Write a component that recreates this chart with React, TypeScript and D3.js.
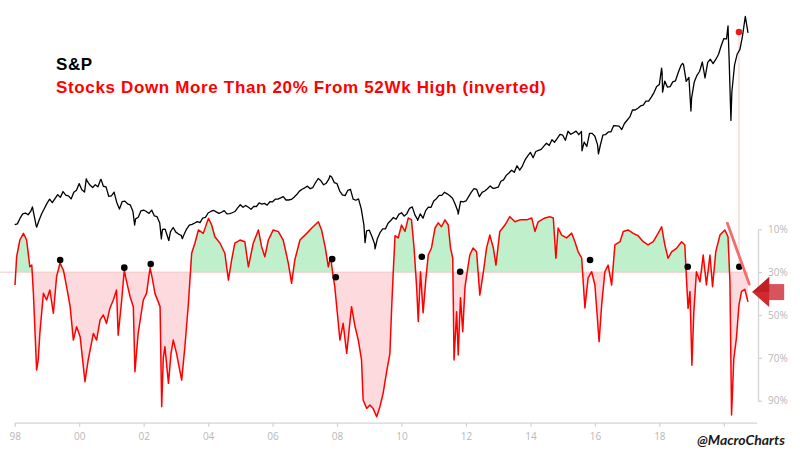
import { useEffect, useRef } from 'react'
import * as d3 from 'd3'

// S&P 500 month-end closes, starting Jan 1998
const spxFirstYear = 1998
const spxMonthly = [
  980, 1049, 1102, 1112, 1091, 1134, 1121, 957, 1017, 1099, 1164, 1229,
  1280, 1238, 1286, 1335, 1302, 1373, 1329, 1320, 1283, 1363, 1389, 1469,
  1394, 1366, 1499, 1452, 1421, 1455, 1431, 1518, 1437, 1429, 1315, 1320,
  1366, 1240, 1160, 1249, 1256, 1224, 1211, 1134, 1041, 1060, 1139, 1148,
  1130, 1107, 1147, 1076, 1067, 990, 912, 916, 815, 886, 936, 880,
  856, 841, 848, 917, 964, 975, 990, 1008, 996, 1051, 1058, 1112,
  1131, 1145, 1126, 1107, 1121, 1141, 1102, 1104, 1115, 1130, 1174, 1212,
  1181, 1204, 1181, 1157, 1192, 1191, 1234, 1220, 1229, 1207, 1249, 1248,
  1280, 1281, 1295, 1311, 1270, 1270, 1277, 1304, 1336, 1378, 1401, 1418,
  1438, 1407, 1421, 1482, 1531, 1503, 1455, 1474, 1527, 1549, 1481, 1468,
  1379, 1331, 1323, 1386, 1400, 1280, 1267, 1283, 1166, 969, 896, 903,
  826, 735, 798, 873, 919, 919, 987, 1021, 1057, 1036, 1096, 1115,
  1074, 1104, 1169, 1187, 1089, 1031, 1102, 1049, 1141, 1183, 1181, 1258,
  1286, 1327, 1326, 1364, 1345, 1321, 1292, 1219, 1131, 1253, 1247, 1258,
  1312, 1366, 1408, 1398, 1310, 1362, 1379, 1407, 1441, 1412, 1416, 1426,
  1498, 1515, 1569, 1598, 1631, 1606, 1686, 1633, 1682, 1757, 1806, 1848,
  1783, 1859, 1872, 1884, 1924, 1960, 1931, 2003, 1972, 2018, 2068, 2059,
  1995, 2105, 2068, 2086, 2107, 2063, 2104, 1972, 1920, 2079, 2080, 2044,
  1940, 1932, 2060, 2065, 2097, 2099, 2174, 2171, 2168, 2126, 2199, 2239,
  2279, 2364, 2363, 2384, 2412, 2423, 2470, 2472, 2519, 2575, 2648, 2674,
  2824, 2714, 2641, 2648, 2705, 2718, 2816, 2902, 2914, 2712, 2760, 2507,
  2704, 2784, 2834, 2946, 2752, 2942, 2980, 2926, 2977, 3038, 3141, 3231,
  3226, 2954, 2585, 2912, 3044, 3100, 3271, 3500,
]

// intra-month highs and lows [year, level]
const spxTurns: [number, number][] = [
  [1998.0, 970], [1998.55, 1186], [1998.68, 940], [2000.22, 1527], [2000.68, 1520],
  [2001.72, 966], [2002.55, 797], [2002.78, 776], [2003.2, 800], [2007.78, 1565],
  [2008.87, 752], [2009.18, 676], [2010.5, 1022], [2011.33, 1363], [2011.76, 1099],
  [2015.6, 1867], [2016.11, 1829], [2018.07, 2872], [2018.1, 2581], [2018.72, 2930],
  [2018.98, 2351], [2020.13, 3386], [2020.22, 2237], [2020.75, 3300],
]

// % of stocks down more than 20% from 52wk high [year, pct]
const downPct: [number, number][] = [
  [1998.01, 36], [1998.06, 22.8], [1998.16, 15], [1998.27, 11.9], [1998.37, 15], [1998.47, 27.5],
  [1998.53, 26.7], [1998.58, 39.9], [1998.68, 75.7], [1998.73, 71], [1998.78, 58.6], [1998.89, 39.9],
  [1998.99, 43], [1999.09, 38.3], [1999.2, 49.2], [1999.3, 32.1], [1999.41, 25.5], [1999.44, 27],
  [1999.51, 29], [1999.61, 36.8], [1999.72, 46.1], [1999.82, 61.7], [1999.92, 55.5], [2000.03, 60.1],
  [2000.18, 81.1], [2000.28, 71], [2000.44, 58.6], [2000.54, 61.7], [2000.65, 52.3], [2000.75, 50],
  [2000.85, 53.9], [2000.95, 47], [2001.06, 43], [2001.16, 38.3], [2001.21, 59.4], [2001.32, 43],
  [2001.4, 29], [2001.45, 33], [2001.58, 41.5], [2001.68, 46.1], [2001.73, 76.5], [2001.83, 58.6],
  [2001.99, 43], [2002.09, 39.9], [2002.2, 28], [2002.27, 33], [2002.35, 39.9], [2002.51, 46.1],
  [2002.56, 92.8], [2002.61, 70], [2002.66, 64.8], [2002.77, 81.9], [2002.85, 68], [2002.92, 61.7],
  [2003.02, 67.9], [2003.18, 80.4], [2003.28, 64.8], [2003.39, 44.5], [2003.49, 21.2], [2003.59, 16.5],
  [2003.7, 10.3], [2003.85, 11.9], [2004.01, 4.9], [2004.11, 8], [2004.21, 13.5], [2004.37, 16.5],
  [2004.52, 21.2], [2004.63, 33.7], [2004.73, 24.3], [2004.83, 16.5], [2004.99, 15], [2005.14, 15.8],
  [2005.25, 27.5], [2005.4, 16.5], [2005.56, 10.3], [2005.66, 18.1], [2005.76, 22.8], [2005.87, 15],
  [2006.02, 10.3], [2006.18, 11.1], [2006.33, 15], [2006.49, 25.9], [2006.59, 35.2], [2006.69, 24.3],
  [2006.85, 15], [2007.06, 11.9], [2007.21, 9.5], [2007.42, 6.5], [2007.52, 10.3], [2007.63, 18.1],
  [2007.73, 27.5], [2007.8, 22.8], [2007.88, 32.1], [2007.93, 36.8], [2007.99, 46.1], [2008.09, 61.7],
  [2008.19, 53.9], [2008.3, 67.9], [2008.45, 46.1], [2008.56, 55.5], [2008.66, 61.7], [2008.76, 71],
  [2008.81, 89.7], [2008.92, 93.6], [2009.02, 92], [2009.12, 93.6], [2009.23, 97.5], [2009.33, 92.8],
  [2009.43, 86.6], [2009.53, 77.2], [2009.64, 68], [2009.7, 45], [2009.75, 28], [2009.8, 13],
  [2009.9, 14], [2010.0, 8], [2010.11, 11], [2010.21, 4.7], [2010.31, 5.6], [2010.39, 18.7],
  [2010.47, 37], [2010.52, 53], [2010.59, 29.8], [2010.67, 49], [2010.76, 32.7], [2010.83, 22],
  [2010.93, 18.7], [2011.04, 9.4], [2011.14, 7], [2011.24, 8.8], [2011.35, 5.6], [2011.45, 8],
  [2011.52, 18.7], [2011.59, 23.4], [2011.63, 71], [2011.71, 48.5], [2011.76, 68.7], [2011.83, 42],
  [2011.9, 57.8], [2011.97, 37], [2012.04, 29.8], [2012.12, 22], [2012.22, 18.7], [2012.33, 20.5],
  [2012.43, 40.7], [2012.53, 31], [2012.64, 18.7], [2012.74, 12.7], [2012.85, 18.7], [2012.93, 26.7],
  [2013.05, 11], [2013.21, 8], [2013.36, 4.1], [2013.52, 6.5], [2013.67, 5.6], [2013.88, 5.6],
  [2014.04, 4.7], [2014.14, 11], [2014.24, 6.5], [2014.45, 4.7], [2014.6, 4.1], [2014.71, 4.7],
  [2014.79, 23.5], [2014.86, 9.4], [2014.97, 12.7], [2015.12, 14], [2015.28, 11.8], [2015.38, 15.8],
  [2015.48, 20.5], [2015.59, 23.4], [2015.69, 46.7], [2015.79, 32.7], [2015.9, 29.8], [2016.0, 36],
  [2016.07, 50], [2016.13, 62.5], [2016.21, 45.3], [2016.31, 29.8], [2016.41, 26.7], [2016.52, 36],
  [2016.62, 17.3], [2016.78, 15.8], [2016.88, 11], [2017.03, 10.3], [2017.19, 11.9], [2017.34, 13],
  [2017.5, 15.8], [2017.65, 17.3], [2017.81, 15.8], [2017.96, 11.9], [2018.07, 8.8], [2018.17, 17.3],
  [2018.27, 23.5], [2018.38, 20.5], [2018.53, 18.9], [2018.69, 15.8], [2018.79, 17.3], [2018.84, 32.7],
  [2018.89, 46.9], [2018.95, 39], [2019.01, 73.4], [2019.07, 48.5], [2019.15, 29.8], [2019.26, 34.5],
  [2019.36, 22], [2019.46, 36], [2019.57, 22], [2019.65, 36.8], [2019.75, 20.5], [2019.88, 12.7],
  [2020.03, 10.3], [2020.13, 13.5], [2020.19, 34.5], [2020.24, 96.7], [2020.31, 70.3], [2020.39, 60.9],
  [2020.47, 45.3], [2020.55, 39], [2020.65, 38], [2020.75, 43.8],
]

const signalDots: [number, number][] = [
  [1999.41, 24.3], [2001.4, 27.9], [2002.22, 26.2], [2007.85, 23.9], [2007.96, 32.4],
  [2010.63, 22.8], [2011.82, 29.8], [2015.85, 24.3], [2018.88, 27.5], [2020.48, 27.5],
]

const yearTicks = [1998, 2000, 2002, 2004, 2006, 2008, 2010, 2012, 2014, 2016, 2018, 2020]
const pctTicks = [10, 30, 50, 70, 90]
const threshold = 30
const trendLine: [number, number][] = [[2020.11, 7.2], [2020.79, 35.6]]
const marker = { date: 2020.47, spx: 3311 }
const arrowAt = { date: 2020.88, pct: 39.3 }

export default function App() {
  const rootRef = useRef<SVGSVGElement>(null)

  useEffect(() => {
    const svg = d3.select(rootRef.current)
    svg.selectAll('*').remove()

    const x = d3.scaleLinear().domain([1998, 2021.02]).range([14.7, 756.7])
    const yS = d3.scaleLinear().domain([676, 3386]).range([248.9, 25.8])
    const yP = d3.scaleLinear().domain([10, 90]).range([229.3, 400.7])

    const spx: [number, number][] = spxMonthly
      .map((v, i) => [spxFirstYear + (i + 1) / 12, v] as [number, number])
      .concat(spxTurns)
      .sort((a, b) => a[0] - b[0])

    const base = yP(threshold)
    const defs = svg.append('defs')
    defs.append('clipPath').attr('id', 'above')
      .append('rect').attr('x', 0).attr('y', 0).attr('width', 800).attr('height', base)
    defs.append('clipPath').attr('id', 'below')
      .append('rect').attr('x', 0).attr('y', base).attr('width', 800).attr('height', 451 - base)

    const area = d3.area<[number, number]>()
      .x((d) => x(d[0]))
      .y0(base)
      .y1((d) => yP(d[1]))

    svg.append('path').datum(downPct).attr('clip-path', 'url(#above)')
      .attr('fill', '#bff0cb').attr('d', area)
    svg.append('path').datum(downPct).attr('clip-path', 'url(#below)')
      .attr('fill', '#fcdadd').attr('d', area)

    // threshold line
    svg.append('line')
      .attr('x1', 0).attr('x2', x(2020.75))
      .attr('y1', base).attr('y2', base)
      .attr('stroke', '#f6c4c6').attr('stroke-width', 1)

    // marker vertical
    svg.append('line')
      .attr('x1', x(marker.date)).attr('x2', x(marker.date))
      .attr('y1', yS(marker.spx)).attr('y2', yP(27.5))
      .attr('stroke', '#f8c8c8').attr('stroke-width', 1)

    svg.append('path').datum(downPct)
      .attr('fill', 'none').attr('stroke', '#ff0000').attr('stroke-width', 1.5)
      .attr('stroke-linejoin', 'round')
      .attr('d', d3.line<[number, number]>().x((d) => x(d[0])).y((d) => yP(d[1])))

    svg.append('path').datum(spx)
      .attr('fill', 'none').attr('stroke', '#000').attr('stroke-width', 1.3)
      .attr('stroke-linejoin', 'round')
      .attr('d', d3.line<[number, number]>().x((d) => x(d[0])).y((d) => yS(d[1])))

    svg.append('g').selectAll('circle').data(signalDots).join('circle')
      .attr('cx', (d) => x(d[0])).attr('cy', (d) => yP(d[1])).attr('r', 3.3).attr('fill', '#000')

    svg.append('circle')
      .attr('cx', x(marker.date)).attr('cy', yS(marker.spx)).attr('r', 3.3).attr('fill', '#f01818')

    // trend line
    svg.append('line')
      .attr('x1', x(trendLine[0][0])).attr('y1', yP(trendLine[0][1]))
      .attr('x2', x(trendLine[1][0])).attr('y2', yP(trendLine[1][1]))
      .attr('stroke', '#f46c6c').attr('stroke-width', 2.8).attr('stroke-linecap', 'round')

    // axes
    const xAxis = svg.append('g')
      .attr('transform', `translate(0,${422.7})`)
      .call(
        d3.axisBottom(x).tickValues(yearTicks).tickSize(4).tickSizeOuter(0).tickPadding(6)
          .tickFormat((d) => ((d as number) === 2020 ? '' : String(d).slice(2)))
      )
    const yAxis = svg.append('g')
      .attr('transform', `translate(${758},0)`)
      .call(
        d3.axisRight(yP).tickValues(pctTicks).tickSize(4).tickSizeOuter(0).tickPadding(6)
          .tickFormat((d) => `${d}%`)
      )
    for (const g of [xAxis, yAxis]) {
      g.select('.domain').attr('stroke', '#d4d4d4').attr('stroke-width', 1.3)
      g.selectAll('.tick line').attr('stroke', '#d4d4d4').attr('stroke-width', 1.3)
      g.selectAll('.tick text')
        .attr('fill', '#b8b8b8')
        .attr('font-family', 'Open Sans, sans-serif')
        .attr('font-size', 10)
    }

    // arrow
    const ax = x(arrowAt.date)
    const ay = yP(arrowAt.pct)
    svg.append('rect')
      .attr('x', ax + 16).attr('y', ay - 8).attr('width', 16).attr('height', 16)
      .attr('fill', '#d8545c')
    svg.append('path')
      .attr('d', `M${ax},${ay} L${ax + 17},${ay - 15} L${ax + 17},${ay + 15} Z`)
      .attr('fill', '#cf2a30')
    svg.append('path')
      .attr('d', `M${ax},${ay} L${ax + 17},${ay - 15} L${ax + 17},${ay} Z`)
      .attr('fill', '#c01f26')

    // titles
    svg.append('text')
      .attr('x', 56).attr('y', 70)
      .attr('font-family', 'Liberation Sans, Arial, sans-serif')
      .attr('font-weight', 'bold').attr('font-size', 17).attr('letter-spacing', 0.6)
      .attr('fill', '#000')
      .text('S&P')
    svg.append('text')
      .attr('x', 56).attr('y', 93)
      .attr('font-family', 'Liberation Sans, Arial, sans-serif')
      .attr('font-weight', 'bold').attr('font-size', 17).attr('letter-spacing', 0.65)
      .attr('fill', '#ff0000')
      .text('Stocks Down More Than 20% From 52Wk High (inverted)')

    svg.append('text')
      .attr('x', 697).attr('y', 445)
      .attr('font-family', 'Lato, sans-serif').attr('font-style', 'italic')
      .attr('font-weight', 'bold').attr('font-size', 14).attr('fill', '#1a1a1a')
      .text('@MacroCharts')
  }, [])

  return (
    <svg
      ref={rootRef}
      width={800}
      height={451}
      style={{ position: 'absolute', left: 0, top: 0, background: '#fff' }}
    ></svg>
  )
}
